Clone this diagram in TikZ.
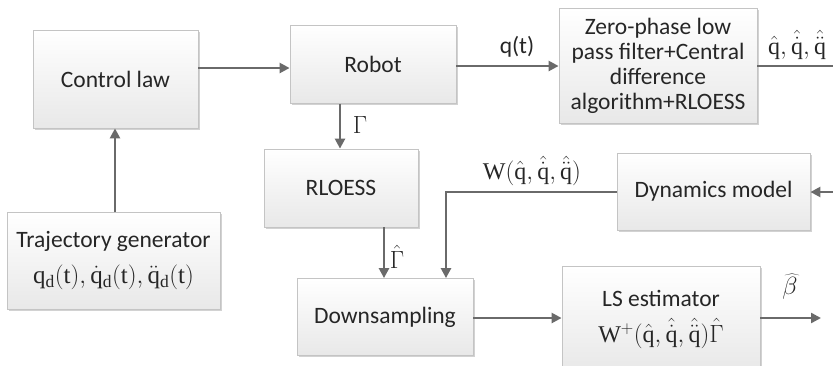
\documentclass[tikz,border=0pt]{standalone}
\usepackage{fontspec}
\setmainfont{Liberation Serif}
\newfontfamily\boxfont{Carlito}
\usetikzlibrary{arrows.meta,shadows}
\definecolor{linegray}{HTML}{6A6A6A}
\definecolor{edgegray}{HTML}{C4C4C4}
\definecolor{txt}{HTML}{262626}
\begin{document}
\begin{tikzpicture}[x=1pt,y=-1pt,
  block/.style={draw=edgegray, line width=0.8pt, top color=white, bottom color=black!9,
    drop shadow={shadow xshift=1.6pt, shadow yshift=-1.6pt, fill=black!35, opacity=0.5},
    align=center, text=txt, inner sep=0pt,
    font=\boxfont\fontsize{23.5}{25}\selectfont},
  arr/.style={draw=linegray, line width=2.4pt, -{Triangle[length=10pt,width=10pt]}},
  plain/.style={draw=linegray, line width=2.4pt},
  lbl/.style={text=txt, inner sep=0pt, font=\fontsize{24}{26}\selectfont}]
\useasboundingbox (0,0) rectangle (833,365);
\begin{scope}
\clip (0,0) rectangle (833,365);

% blocks
\node[block, minimum width=165pt, minimum height=98pt] (ctrl) at (115.5,79) {Control law};
\node[block, minimum width=166pt, minimum height=78pt] (robot) at (373,64.5) {Robot};
\node[block, minimum width=198pt, minimum height=115pt] (zpf) at (658,65.5)
  {Zero-phase low\\pass filter+Central\\difference\\algorithm+RLOESS};
\node[block, minimum width=213pt, minimum height=97pt] (traj) at (113.5,261)
  {Trajectory generator\\[11pt]
   {\fontsize{25}{27}\selectfont$\mathrm{q_d(t)},\dot{\mathrm{q}}_{\mathrm{d}}\mathrm{(t)},\ddot{\mathrm{q}}_{\mathrm{d}}\mathrm{(t)}$}};
\node[block, minimum width=154pt, minimum height=78pt] (rloess) at (341,188) {RLOESS};
\node[block, minimum width=176pt, minimum height=77pt] (down) at (385,317) {Downsampling};
\node[block, minimum width=193pt, minimum height=77pt] (dyn) at (713.5,191.5) {Dynamics model};
\node[block, minimum width=198pt, minimum height=106pt] (ls) at (661,319)
  {LS estimator\\[11pt]
   {\fontsize{24}{26}\selectfont$\mathrm{W^{+}}(\hat{\mathrm{q}},\hat{\dot{\mathrm{q}}},\hat{\ddot{\mathrm{q}}})\hat{\Gamma}$}};

% free ends at the border
\coordinate (qout) at (840,66);
\coordinate (qin) at (840,192);
\coordinate (bout) at (821,318);
\coordinate (wbend) at (446,192);

% connectors
\draw[arr] (ctrl.east |- 0,68) -- (robot.west |- 0,68);
\draw[arr] (robot.east |- 0,66) -- (zpf.west |- 0,66);
\draw[plain] (zpf.east |- 0,66) -- (qout);
\draw[arr] (traj.north -| 115,0) -- (ctrl.south -| 115,0);
\draw[arr] (robot.south -| 340,0) -- (rloess.north -| 340,0);
\draw[arr] (rloess.south -| 384,0) -- (down.north -| 384,0);
\draw[arr] (qin) -- (dyn.east |- qin);
\draw[arr] (dyn.west |- wbend) -- (wbend) -- (down.north -| wbend);
\draw[arr] (down.east |- 0,318) -- (ls.west |- 0,318);
\draw[arr] (ls.east |- 0,318) -- (bout);
\end{scope}

% signal labels
\node[lbl, font=\boxfont\fontsize{23.5}{25}\selectfont] (lq) at (517,47) {q(t)};
\node[lbl] (lgam) at (360,125) {$\Gamma$};
\node[lbl] (lgamh) at (397,257) {$\hat{\Gamma}$};
\node[lbl] (lw) at (532,171) {$\mathrm{W}(\hat{\mathrm{q}},\hat{\dot{\mathrm{q}}},\hat{\ddot{\mathrm{q}}})$};
\node[lbl, anchor=west] (lqh) at (768,45) {$\hat{\mathrm{q}},\hat{\dot{\mathrm{q}}},\hat{\ddot{\mathrm{q}}}$};
\node[lbl, font=\fontsize{28}{30}\selectfont] (lbeta) at (790,287) {$\widehat{\beta}$};
\end{tikzpicture}
\end{document}
